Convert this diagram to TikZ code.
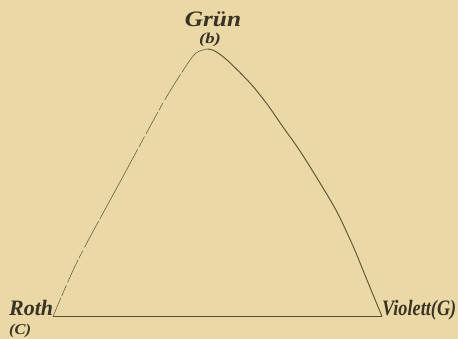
\documentclass[tikz,border=0pt]{standalone}
\usepackage{fontspec}
\setmainfont{Liberation Serif}
\definecolor{paper}{HTML}{EAD9A6}
\definecolor{ink}{HTML}{5A4E30}
\definecolor{txt}{HTML}{3A3222}
\begin{document}
\begin{tikzpicture}[x=1pt,y=-1pt,
  lbl/.style={text=txt,font=\bfseries\itshape\fontsize{22}{22}\selectfont,inner sep=0pt},
  sub/.style={text=txt,font=\bfseries\itshape\fontsize{15}{15}\selectfont,inner sep=0pt}]
\fill[paper] (0,0) rectangle (458,339);
\useasboundingbox (0,0) rectangle (458,339);
% corners
\coordinate (C) at (53,316.5);
\coordinate (G) at (382,316.5);
\coordinate (b) at (207,49);
% base
\draw[ink,line width=0.9pt] (C) -- (G);
% left side (thin, broken)
\draw[ink,line width=0.5pt,dash pattern=on 20pt off 2pt on 12pt off 3pt on 25pt off 2pt on 8pt off 4pt on 30pt off 2pt on 60pt off 0pt]
  plot[smooth,tension=0.5] coordinates {(C) (78,260) (120,182) (163,103) (186,66) (196,53) (b)};
% right side
\draw[ink,line width=0.9pt]
  plot[smooth,tension=0.5] coordinates {(b) (214,50.5) (227,60) (250,83) (267,104) (283,127) (300,151) (320,183) (337,212) (353,246) (367,280) (G)};
% labels
\node[lbl,anchor=base] (gruen) at (213,27) {\scalebox{1.15}[1]{Grün}};
\node[sub,anchor=base] (gb) at (210,43.5) {\scalebox{1.25}[1]{(b)}};
\node[lbl,anchor=base west] (roth) at (9,315) {Roth};
\node[sub,anchor=base west] (rc) at (9,334) {\scalebox{1.1}[1]{(C)}};
\node[lbl,anchor=base west] (viol) at (382,315) {\scalebox{0.83}[1]{Violett(G)}};
\end{tikzpicture}
\end{document}
